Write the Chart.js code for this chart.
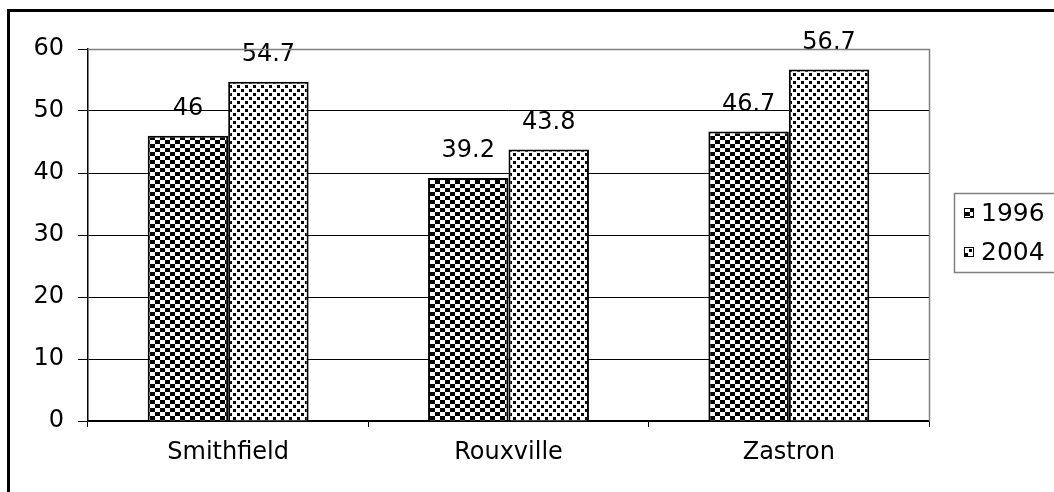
<!DOCTYPE html>
<html>
<head>
<meta charset="utf-8">
<script src="https://cdn.jsdelivr.net/npm/chart.js@4"></script>
<style>
  html, body { margin: 0; padding: 0; background: #fff; }
  #wrap { position: relative; width: 1054px; height: 492px; overflow: hidden; }
  #frame { position: absolute; left: 7px; top: 9px; width: 1060px; height: 500px;
           border-left: 3px solid #000; border-top: 3px solid #000; pointer-events: none; }
</style>
</head>
<body>
<div id="wrap">
  <canvas id="chart" width="1054" height="492"></canvas>
  <div id="frame"></div>
</div>
<script>
// Towns compared across the two survey years
const categories = ['Smithfield', 'Rouxville', 'Zastron'];
const seriesNames = ['1996', '2004'];
const values1996 = [46, 39.2, 46.7];
const values2004 = [54.7, 43.8, 56.7];
const yTicks = [0, 10, 20, 30, 40, 50, 60];

const FONT = '"DejaVu Sans", sans-serif';

// Fill patterns: a checkerboard and a staggered dot screen
function checkerPattern() {
  const c = document.createElement('canvas');
  c.width = 10; c.height = 8;
  const g = c.getContext('2d');
  g.fillStyle = '#fff'; g.fillRect(0, 0, 10, 8);
  g.fillStyle = '#000';
  g.fillRect(0, 0, 5, 4);
  g.fillRect(5, 4, 5, 4);
  return g.createPattern(c, 'repeat');
}
function dotPattern() {
  const c = document.createElement('canvas');
  c.width = 8; c.height = 8;
  const g = c.getContext('2d');
  g.fillStyle = '#fff'; g.fillRect(0, 0, 8, 8);
  g.fillStyle = '#000';
  g.fillRect(1, 1, 3, 3);
  g.fillRect(5, 5, 3, 3);
  return g.createPattern(c, 'repeat');
}
const fills = [checkerPattern(), dotPattern()];

// Value labels above each bar
const valueLabels = {
  id: 'valueLabels',
  afterDatasetsDraw(chart) {
    const ctx = chart.ctx;
    ctx.save();
    ctx.font = '24px ' + FONT;
    ctx.fillStyle = '#000';
    ctx.textAlign = 'center';
    ctx.textBaseline = 'middle';
    chart.data.datasets.forEach((ds, i) => {
      chart.getDatasetMeta(i).data.forEach((bar, j) => {
        ctx.fillText(String(ds.data[j]), bar.x, bar.y - 27);
      });
    });
    ctx.restore();
  }
};

// Plot-area right edge and the boxed legend on the right
const frameAndLegend = {
  id: 'frameAndLegend',
  afterDraw(chart) {
    const ctx = chart.ctx;
    const a = chart.chartArea;
    ctx.save();
    ctx.strokeStyle = '#808080';
    ctx.lineWidth = 1.5;
    ctx.beginPath();
    ctx.moveTo(a.left, a.top + 0.5);
    ctx.lineTo(a.right + 0.5, a.top + 0.5);
    ctx.lineTo(a.right + 0.5, a.bottom);
    ctx.stroke();

    // legend box
    const bx = a.right + 25, by = 193, bw = 140, bh = 79;
    ctx.strokeStyle = '#808080';
    ctx.lineWidth = 1.5;
    ctx.strokeRect(bx + 0.5, by + 0.5, bw, bh);
    ctx.font = '25px ' + FONT;
    ctx.textBaseline = 'middle';
    ctx.textAlign = 'left';
    chart.data.datasets.forEach((ds, i) => {
      const cy = 213 + i * 39;
      ctx.fillStyle = ds.backgroundColor;
      ctx.fillRect(bx + 10, cy - 5, 10, 10);
      ctx.strokeStyle = '#000';
      ctx.lineWidth = 1;
      ctx.strokeRect(bx + 10.5, cy - 4.5, 9, 9);
      ctx.fillStyle = '#000';
      ctx.fillText(ds.label, bx + 27, cy + 1);
    });
    ctx.restore();
  }
};

new Chart(document.getElementById('chart'), {
  type: 'bar',
  data: {
    labels: categories,
    datasets: [
      { label: seriesNames[0], data: values1996, backgroundColor: fills[0],
        borderColor: '#000', borderWidth: 2 },
      { label: seriesNames[1], data: values2004, backgroundColor: fills[1],
        borderColor: '#000', borderWidth: 2 }
    ]
  },
  options: {
    responsive: false,
    animation: false,
    events: [],
    layout: { padding: { left: 0, top: 49, right: 125, bottom: 0 } },
    datasets: { bar: { categoryPercentage: 0.574, barPercentage: 1.0 } },
    plugins: { legend: { display: false }, tooltip: { enabled: false } },
    scales: {
      x: {
        afterFit(s) { s.height = 71; },
        grid: { drawOnChartArea: false, drawTicks: true, tickLength: 6, color: '#000', lineWidth: 1 },
        border: { display: true, color: '#000', width: 1.5 },
        ticks: { color: '#000', font: { family: FONT, size: 24 }, padding: 11 }
      },
      y: {
        min: 0, max: 60,
        afterFit(s) { s.width = 88; },
        afterBuildTicks(s) { s.ticks = yTicks.map(v => ({ value: v })); },
        grid: { color: '#000', lineWidth: 1, drawTicks: true, tickLength: 10 },
        border: { display: true, color: '#000', width: 1.5 },
        ticks: { color: '#000', font: { family: FONT, size: 24 }, padding: 14 }
      }
    }
  },
  plugins: [valueLabels, frameAndLegend]
});
</script>
</body>
</html>
